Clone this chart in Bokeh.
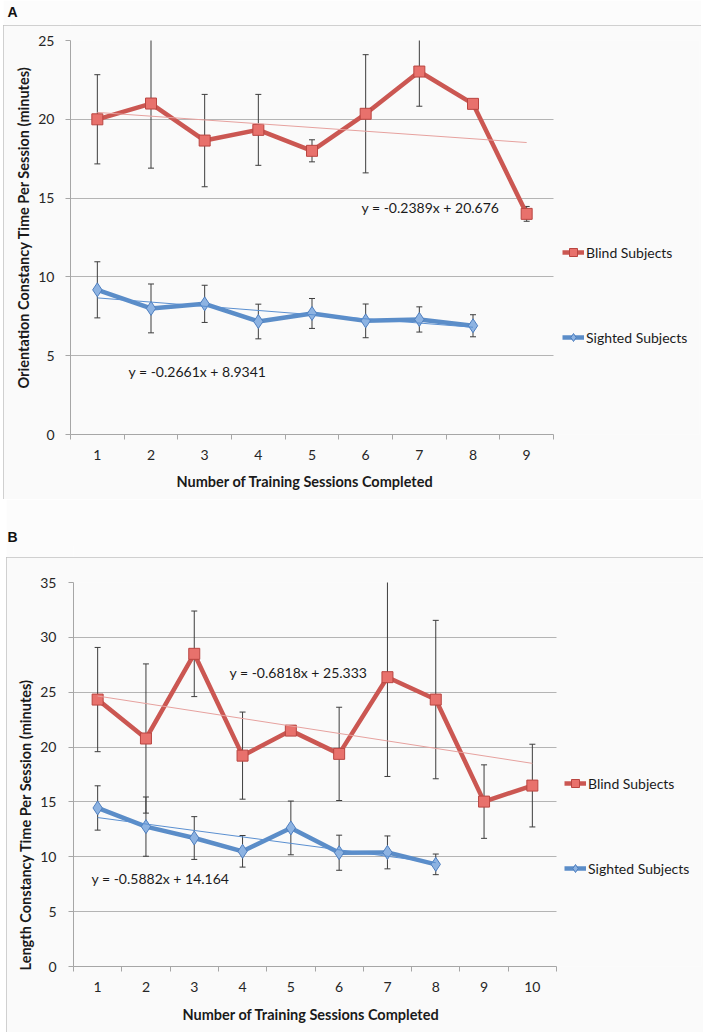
from bokeh.plotting import figure
from bokeh.models import (Range1d, FixedTicker, ColumnDataSource, Whisker, TeeHead,
                          Label, Legend, LegendItem, Title)
from bokeh.layouts import column
from bokeh.embed import file_html
from bokeh.resources import INLINE
from bokeh.core.validation import silence
from bokeh.core.validation.warnings import MISSING_RENDERERS

silence(MISSING_RENDERERS, True)

# ---------------- data ----------------
# Panel A: orientation constancy
blind_sessions_a = [1, 2, 3, 4, 5, 6, 7, 8, 9]
blind_a = [20.0, 21.0, 18.65, 19.33, 18.0, 20.35, 23.03, 20.98, 14.0]
blind_a_err = [2.83, 4.1, 2.93, 2.25, 0.7, 3.75, 2.2, 0.25, 0.47]
sighted_sessions_a = [1, 2, 3, 4, 5, 6, 7, 8]
sighted_a = [9.18, 8.0, 8.29, 7.17, 7.68, 7.21, 7.3, 6.9]
sighted_a_err = [1.78, 1.55, 1.18, 1.1, 0.95, 1.07, 0.8, 0.7]
trend_blind_a = (-0.2389, 20.676)
trend_sighted_a = (-0.2661, 8.9341)
x_ticks_a = ["1", "2", "3", "4", "5", "6", "7", "8", "9"]
y_ticks_a = [0, 5, 10, 15, 20, 25]

# Panel B: length constancy
blind_sessions_b = [1, 2, 3, 4, 5, 6, 7, 8, 9, 10]
blind_b = [24.33, 20.78, 28.5, 19.22, 21.5, 19.38, 26.37, 24.33, 15.03, 16.49]
blind_b_err = [4.75, 6.8, 3.9, 3.97, 0.3, 4.25, 9.05, 7.22, 3.35, 3.77]
sighted_sessions_b = [1, 2, 3, 4, 5, 6, 7, 8]
sighted_b = [14.45, 12.75, 11.71, 10.5, 12.63, 10.37, 10.4, 9.31]
sighted_b_err = [2.02, 2.7, 1.95, 1.44, 2.45, 1.6, 1.5, 0.94]
trend_blind_b = (-0.6818, 25.333)
trend_sighted_b = (-0.5882, 14.164)
x_ticks_b = ["1", "2", "3", "4", "5", "6", "7", "8", "9", "10"]
y_ticks_b = [0, 5, 10, 15, 20, 25, 30, 35]

RED_LINE = "#cb5752"
RED_FILL = "#e8716c"
RED_EDGE = "#b94540"
RED_TREND = "#e6a19e"
BLUE_LINE = "#5b8dc8"
BLUE_FILL = "#8db3e2"
BLUE_EDGE = "#4f7fbf"
BLUE_TREND = "#5a8fd0"
ERR = "#3d3d3d"
GRID = "#b4b4b4"
AXIS = "#a6a6a6"
BG = "#fafafa"
PAGE_BG = "#fcfcfc"
FONT = "Lato"
TXT = "#1a1a1a"
TITLE_SIZE = "14.5px"

XTITLE = "Number of Training Sessions Completed"


def letter_fig(letter, fig_w, h, left_margin, fl, top_border, offset):
    p = figure(width=fig_w, height=h, x_range=Range1d(0, 1), y_range=Range1d(0, 1),
               x_axis_type=None, y_axis_type=None, output_backend="svg",
               toolbar_location=None, min_border_left=fl, min_border_right=2,
               min_border_top=top_border, min_border_bottom=0,
               margin=(0, 0, 0, left_margin),
               title=Title(text=letter, align="left", offset=offset, standoff=2,
                           text_font="Liberation Sans", text_font_size="14px",
                           text_font_style="bold", text_color="#111111"))
    p.grid.visible = False
    p.outline_line_color = None
    p.background_fill_color = PAGE_BG
    p.border_fill_color = PAGE_BG
    return p


def make_panel(fig_w, fig_h, left_margin, fl, ft, fw, fh, ymax, xlabels, yticks,
               blind_x, blind_y, blind_e, sight_x, sight_y, sight_e, tb, ts,
               ytitle, texts, legend_loc, ytitle_offset, xtitle_offset,
               xtitle_standoff, y_standoff):
    n = len(xlabels)
    unit = fw / n                    # px per session
    right_border = 2
    frame_w = fig_w - fl - right_border
    xmax = 0.5 + frame_w / unit      # frame extends under the legend area

    def dx(px):  # local canvas px -> data
        return 0.5 + (px - fl) / unit

    def dy(py):
        return (ft + fh - py) / fh * ymax

    p = figure(width=fig_w, height=fig_h, x_range=Range1d(0.5, xmax),
               y_range=Range1d(0, ymax), output_backend="svg", title=None,
               toolbar_location=None, min_border_left=fl,
               min_border_right=right_border, min_border_top=ft,
               min_border_bottom=fig_h - ft - fh, margin=(0, 0, 0, left_margin),
               styles={"outline": "1px solid #c2c2c2", "outline-offset": "-1px"})
    p.background_fill_color = BG
    p.border_fill_color = BG
    p.outline_line_color = None

    xs = list(range(1, n + 1))
    p.xaxis.ticker = FixedTicker(ticks=xs, minor_ticks=[i + 0.5 for i in range(0, n + 1)])
    p.xaxis.bounds = (0.5, n + 0.5)
    p.xaxis.major_label_overrides = {i: lab for i, lab in zip(xs, xlabels)}
    p.xaxis.major_tick_line_color = None
    p.xaxis.major_tick_in = 0
    p.xaxis.major_tick_out = 0
    p.xaxis.minor_tick_in = 0
    p.xaxis.minor_tick_out = 5
    p.xaxis.minor_tick_line_color = AXIS
    p.xaxis.axis_line_color = AXIS
    p.xaxis.major_label_standoff = 10
    p.yaxis.ticker = FixedTicker(ticks=yticks)
    p.yaxis.minor_tick_line_color = None
    p.yaxis.major_tick_in = 0
    p.yaxis.major_tick_out = 5
    p.yaxis.major_tick_line_color = AXIS
    p.yaxis.axis_line_color = AXIS
    p.yaxis.major_label_standoff = y_standoff
    for ax in (p.xaxis, p.yaxis):
        ax.major_label_text_font = FONT
        ax.major_label_text_font_size = "14px"
        ax.major_label_text_color = "#262626"
    p.xgrid.visible = False
    p.ygrid.grid_line_color = GRID
    p.ygrid.cross_bounds = (0.5, n + 0.5)

    p.add_layout(Title(text=ytitle, align="left", offset=ytitle_offset,
                       standoff=7, text_font=FONT, text_font_size=TITLE_SIZE,
                       text_font_style="bold", text_color=TXT), "left")
    p.add_layout(Title(text=XTITLE, align="left", offset=xtitle_offset,
                       standoff=xtitle_standoff, text_font=FONT,
                       text_font_size=TITLE_SIZE, text_font_style="bold",
                       text_color=TXT), "below")

    src_b = ColumnDataSource(dict(x=blind_x, y=blind_y,
                                  upper=[v + e for v, e in zip(blind_y, blind_e)],
                                  lower=[v - e for v, e in zip(blind_y, blind_e)]))
    src_s = ColumnDataSource(dict(x=sight_x, y=sight_y,
                                  upper=[v + e for v, e in zip(sight_y, sight_e)],
                                  lower=[v - e for v, e in zip(sight_y, sight_e)]))
    for src in (src_b, src_s):
        p.add_layout(Whisker(source=src, base="x", upper="upper", lower="lower",
                             line_color=ERR, line_width=1, level="underlay",
                             upper_head=TeeHead(size=6, line_color=ERR, line_width=1),
                             lower_head=TeeHead(size=6, line_color=ERR, line_width=1)))

    lb = p.line("x", "y", source=src_b, line_color=RED_LINE, line_width=4.5)
    ls = p.line("x", "y", source=src_s, line_color=BLUE_LINE, line_width=4.5)
    mb = p.scatter("x", "y", source=src_b, marker="square", size=11,
                   fill_color=RED_FILL, line_color=RED_EDGE, line_width=1)
    ms = p.scatter("x", "y", source=src_s, marker="diamond", size=14,
                   fill_color=BLUE_FILL, line_color=BLUE_EDGE, line_width=1)

    xb = [blind_x[0], blind_x[-1]]
    p.line(xb, [tb[0] * v + tb[1] for v in xb], line_color=RED_TREND, line_width=1)
    xsg = [sight_x[0], sight_x[-1]]
    p.line(xsg, [ts[0] * v + ts[1] for v in xsg], line_color=BLUE_TREND, line_width=1)

    for (txt, px, py) in texts:
        p.add_layout(Label(x=dx(px), y=dy(py), text=txt, text_font=FONT,
                           text_font_size="14px", text_color=TXT,
                           text_align="left", text_baseline="middle"))

    legend = Legend(items=[LegendItem(label="Blind Subjects", renderers=[lb, mb]),
                           LegendItem(label="Sighted Subjects", renderers=[ls, ms])],
                    location=legend_loc, orientation="vertical",
                    glyph_width=22, glyph_height=20, label_height=20,
                    spacing=65, padding=0, margin=0, label_standoff=2,
                    border_line_color=None, background_fill_alpha=0,
                    label_text_font=FONT, label_text_font_size="14px",
                    label_text_color=TXT)
    p.add_layout(legend)
    return p


# Panel A figure: page x 3..701, y 25..499 ; frame page x 70..553, y 40..434
pa = make_panel(698, 474, 3, 67, 15, 483, 394, 25, x_ticks_a, y_ticks_a,
                blind_sessions_a, blind_a, blind_a_err,
                sighted_sessions_a, sighted_a, sighted_a_err,
                trend_blind_a, trend_sighted_a,
                "Orientation Constancy Time Per Session (minutes)",
                [("y = -0.2389x + 20.676", 358, 182), ("y = -0.2661x + 8.9341", 125, 346)],
                (492, 87), 46, 106, 16, 11)

# Panel B figure: page x 6..703, y 557..1032 ; frame page x 73..556, y 582..966
pb = make_panel(697, 475, 6, 67, 25, 483, 384, 35, x_ticks_b, y_ticks_b,
                blind_sessions_b, blind_b, blind_b_err,
                sighted_sessions_b, sighted_b, sighted_b_err,
                trend_blind_b, trend_sighted_b,
                "Length Constancy Time Per Session (minutes)",
                [("y = -0.6818x + 25.333", 223, 115), ("y = -0.5882x + 14.164", 85, 321)],
                (491, 88), -4, 109, 19, 12)

la = letter_fig("A", 698, 25, 3, 67, 20, -63)
lb_fig = letter_fig("B", 697, 58, 6, 67, 46, -66)

layout = column(la, pa, lb_fig, pb, spacing=0)
open("out.html", "w").write(file_html(layout, INLINE))
